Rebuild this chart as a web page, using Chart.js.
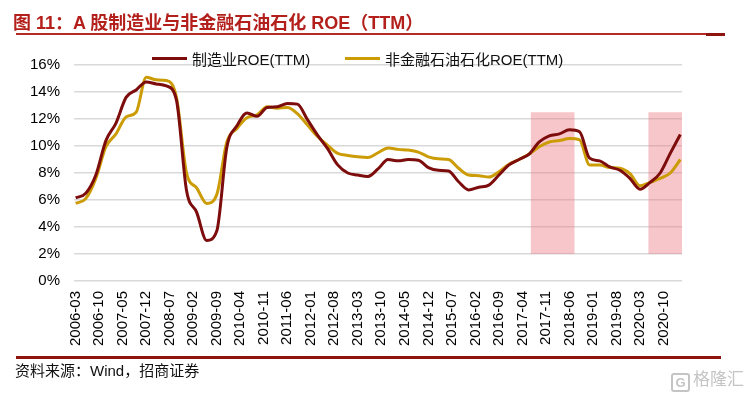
<!DOCTYPE html>
<html>
<head>
<meta charset="utf-8">
<script src="https://cdn.jsdelivr.net/npm/chart.js@4/dist/chart.umd.min.js"></script>
<style>
	body { margin: 0; background: #fff; }
	#wrap { position: relative; width: 745px; height: 393px; overflow: hidden; font-family: "Liberation Sans", "Noto Sans CJK SC", sans-serif; }
	#chartBox { position: absolute; left: 0; top: 0; width: 745px; height: 393px; }
	.title { position: absolute; left: 13px; top: 8px; font-size: 18px; font-weight: bold; color: #b3201c; white-space: nowrap; }
	.rule-top { position: absolute; left: 16px; top: 33px; width: 690px; height: 2px; background: #b52a26; }
	.rule-top-end { position: absolute; left: 706px; top: 33px; width: 19px; height: 3px; background: #8e1410; }
	.rule-bottom { position: absolute; left: 16px; top: 356px; width: 705px; height: 3px; background: #8e1410; }
	.source { position: absolute; left: 15px; top: 359px; font-size: 15px; color: #111; white-space: nowrap; }
	.legend { position: absolute; top: 48px; font-size: 15px; color: #111; white-space: nowrap; display: flex; align-items: center; }
	.legend i { display: inline-block; width: 35px; height: 3px; margin-right: 5px; }
	.mark { position: absolute; left: 671px; top: 365px; font-size: 17px; color: #c4c4c4; white-space: nowrap; }
	.mark b { display: inline-block; border: 2px solid #c4c4c4; border-radius: 3px; width: 15px; height: 15px; line-height: 15px; font-size: 13px; text-align: center; margin-right: 3px; vertical-align: -2px; }
</style>
</head>
<body>
<div id="wrap">
	<div id="chartBox"><canvas id="cntx_roe"></canvas></div>
	<div class="title">图 11：A 股制造业与非金融石油石化 ROE（TTM）</div>
	<div class="rule-top"></div>
	<div class="rule-top-end"></div>
	<div class="legend" style="left:152px"><i style="background:#7d0c0c"></i>制造业ROE(TTM)</div>
	<div class="legend" style="left:345px"><i style="background:#cc9c06"></i>非金融石油石化ROE(TTM)</div>
	<div class="rule-bottom"></div>
	<div class="source">资料来源：Wind，招商证券</div>
	<div class="mark"><b>G</b>格隆汇</div>
</div>
<script>
// quarterly ROE (TTM, %), 2006-03 .. 2021-03
const manufacturing = [
	6.15, 6.5, 7.85, 10.4, 11.7, 13.6, 14.15, 14.75, 14.6, 14.45,
	13.4, 6.7, 5.1, 3.0, 3.7, 9.9, 11.5, 12.45, 12.2, 12.85,
	12.9, 13.15, 13.1, 11.95, 10.8, 9.8, 8.6, 8.0, 7.85, 7.75,
	8.3, 9.0, 8.9, 9.0, 8.95, 8.4, 8.2, 8.15, 7.35, 6.75,
	6.95, 7.1, 7.85, 8.6, 9.0, 9.4, 10.3, 10.75, 10.9, 11.2,
	11.05, 9.1, 8.9, 8.45, 8.2, 7.6, 6.8, 7.3, 8.0, 9.45,
	10.85
];
const nonFinancial = [
	5.75, 6.1, 7.6, 9.95, 10.9, 12.15, 12.5, 15.1, 14.9, 14.85,
	13.6, 8.0, 6.9, 5.75, 6.4, 10.3, 11.3, 12.1, 12.3, 12.9,
	12.8, 12.85, 12.4, 11.55, 10.7, 10.05, 9.45, 9.3, 9.2, 9.15,
	9.5, 9.85, 9.75, 9.7, 9.55, 9.2, 9.05, 9.0, 8.35, 7.85,
	7.8, 7.7, 8.1, 8.65, 9.0, 9.4, 9.95, 10.3, 10.4, 10.55,
	10.45, 8.6, 8.6, 8.4, 8.35, 7.95, 7.05, 7.3, 7.6, 8.0,
	9.0
];
const tickLabels = [
	"2006-03", "2006-10", "2007-05", "2007-12", "2008-07", "2009-02", "2009-09",
	"2010-04", "2010-11", "2011-06", "2012-01", "2012-08", "2013-03", "2013-10",
	"2014-05", "2014-12", "2015-07", "2016-02", "2016-09", "2017-04", "2017-11",
	"2018-06", "2019-01", "2019-08", "2020-03", "2020-10"
];
const shadeRanges = [["2017-07", "2018-07"], ["2020-06", "2021-03"]];
const shadeLow = 2;
const shadeHigh = 12.5;

// monthly category axis, quarter-end values placed on their months
const months = [];
for (let y = 2006, m = 3; months.length < 181; m++) {
	if (m > 12) { m = 1; y++; }
	months.push(y + "-" + String(m).padStart(2, "0"));
}
const toMonthly = (q) => months.map((_, i) => (i % 3 === 0 ? q[i / 3] : null));

const shadePlugin = {
	id: "shade",
	beforeDatasetsDraw(chart) {
		const x = chart.scales.x;
		const y = chart.scales.y;
		const half = x.width / months.length / 2;
		const ctx = chart.ctx;
		ctx.save();
		ctx.fillStyle = "rgba(236,120,128,0.42)";
		shadeRanges.forEach(([a, b]) => {
			const x0 = x.getPixelForValue(months.indexOf(a)) - half;
			const x1 = x.getPixelForValue(months.indexOf(b)) + half;
			const y0 = y.getPixelForValue(shadeHigh);
			const y1 = y.getPixelForValue(shadeLow);
			ctx.fillRect(x0, y0, x1 - x0, y1 - y0);
		});
		ctx.restore();
	},
};

const lineSet = (label, data, color) => ({
	label: label,
	data: toMonthly(data),
	borderColor: color,
	backgroundColor: color,
	borderWidth: 3,
	pointRadius: 0,
	tension: 0.4,
	cubicInterpolationMode: "monotone",
	spanGaps: true,
});

new Chart(document.querySelector("#cntx_roe"), {
	type: "line",
	data: {
		labels: months,
		datasets: [
			lineSet("制造业ROE(TTM)", manufacturing, "#7d0c0c"),
			lineSet("非金融石油石化ROE(TTM)", nonFinancial, "#cc9c06"),
		],
	},
	options: {
		responsive: true,
		maintainAspectRatio: false,
		animation: false,
		layout: { padding: { left: 10, right: 63, top: 65, bottom: 0 } },
		plugins: { legend: { display: false }, tooltip: { enabled: false } },
		scales: {
			x: {
				offset: true,
				grid: { display: false, drawTicks: false },
				border: { display: false },
				afterFit: (s) => { s.height = 112; },
				ticks: {
					autoSkip: false,
					minRotation: 90,
					maxRotation: 90,
					padding: 10,
					color: "#000",
					font: { family: "Liberation Sans", size: 15 },
					callback: (v, i) => (tickLabels.includes(months[i]) ? months[i] : ""),
				},
			},
			y: {
				min: 0,
				max: 16,
				grid: { color: "#d9d9d9", lineWidth: 1.5, drawTicks: false },
				border: { display: false },
				afterFit: (s) => { s.width = 64; },
				ticks: {
					stepSize: 2,
					padding: 14,
					color: "#000",
					font: { family: "Liberation Sans", size: 15 },
					callback: (v) => v + "%",
				},
			},
		},
	},
	plugins: [shadePlugin],
});
</script>
</body>
</html>
